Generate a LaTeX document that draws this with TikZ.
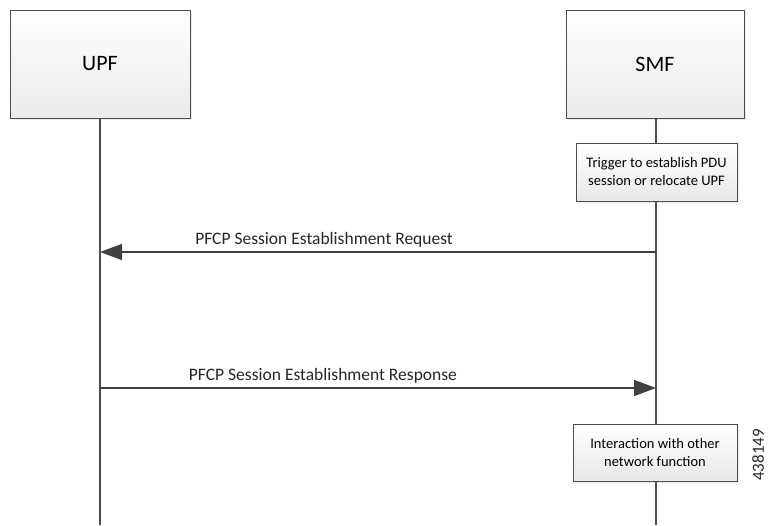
\documentclass[tikz,border=0pt]{standalone}
\usepackage{fontspec}
\setmainfont{Carlito}
\usetikzlibrary{arrows.meta,shadows}
\begin{document}
\begin{tikzpicture}[x=1pt,y=-1pt,
  ent/.style={draw=black!70,line width=1pt,top color=white,bottom color=black!8,minimum width=180pt,minimum height=108pt,font=\fontsize{22}{26}\selectfont,drop shadow={shadow xshift=2pt,shadow yshift=-2pt,opacity=0.15}},
  act/.style={draw=black!70,line width=0.8pt,top color=white,bottom color=black!9,align=center,font=\fontsize{14.5}{18}\selectfont,inner sep=2pt,drop shadow={shadow xshift=2pt,shadow yshift=-2pt,opacity=0.15}},
  life/.style={draw=black!70,line width=1.2pt},
  msg/.style={draw=black!75,line width=1.3pt,-{Triangle[length=22pt,width=16pt]}},
  lbl/.style={font=\fontsize{17.5}{21}\selectfont,text=black!85}]
\useasboundingbox (0,0) rectangle (768,525);
\node[ent] (upf) at (100,64) {UPF};
\node[ent,minimum width=178pt] (smf) at (655,64) {SMF};
\coordinate (upfend) at (100,525);
\coordinate (smfend) at (656,525);
\node[act,minimum width=161pt,minimum height=58pt] (trig) at (656.5,172) {Trigger to establish PDU\\session or relocate UPF};
\node[act,minimum width=164pt,minimum height=57pt] (inter) at (655,452.5) {Interaction with other\\network function};
\draw[life] (upf.south) -- (upfend);
\draw[life] (smf.south -| smfend) -- (trig.north -| smfend);
\draw[life] (trig.south -| smfend) -- (inter.north -| smfend);
\draw[life] (inter.south -| smfend) -- (smfend);
\coordinate (s1) at (656,252);
\coordinate (u1) at (100,252);
\coordinate (u2) at (100,388);
\coordinate (s2) at (656,388);
\draw[msg] (s1) -- node[lbl,pos=0.597,above=1pt] (l1) {PFCP Session Establishment Request} (u1);
\draw[msg] (u2) -- node[lbl,pos=0.401,above=1pt] (l2) {PFCP Session Establishment Response} (s2);
\node[rotate=90,font=\fontsize{17}{20}\selectfont,text=black!85] (num) at (758,455) {438149};
\end{tikzpicture}
\end{document}
